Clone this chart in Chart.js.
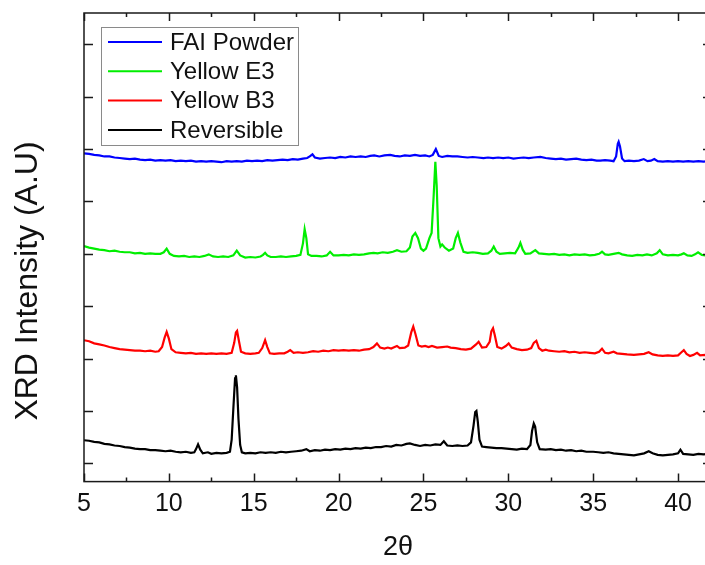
<!DOCTYPE html>
<html>
<head>
<meta charset="utf-8">
<script src="https://cdn.jsdelivr.net/npm/chart.js@4/dist/chart.umd.min.js"></script>
<style>
    html, body { margin: 0; padding: 0; background: #fff; overflow: hidden; }
    #wrap { width: 720px; height: 565px; }
</style>
</head>
<body>
<div id="wrap"><canvas id="xrdChart" width="720" height="565"></canvas></div>
<script>
// 2theta / intensity pairs, one list per sample
const seriesNames = ['FAI Powder', 'Yellow E3', 'Yellow B3', 'Reversible'];
const seriesColors = ['#0000ff', '#00ee00', '#ff0000', '#000000'];

const faiPowder = [
    [5.0, 5.92], [5.3, 5.91], [5.6, 5.89], [5.9, 5.88], [6.2, 5.86], [6.5, 5.86], [6.8, 5.84], [7.1, 5.83],
    [7.4, 5.82], [7.7, 5.81], [8.0, 5.82], [8.3, 5.80], [8.6, 5.79], [8.9, 5.80], [9.2, 5.78], [9.5, 5.79],
    [9.8, 5.78], [10.1, 5.79], [10.4, 5.77], [10.7, 5.78], [11.0, 5.77], [11.3, 5.78], [11.6, 5.76], [11.9, 5.77],
    [12.2, 5.76], [12.5, 5.77], [12.8, 5.76], [13.1, 5.75], [13.4, 5.77], [13.7, 5.76], [14.0, 5.77], [14.3, 5.76],
    [14.6, 5.78], [14.9, 5.77], [15.2, 5.78], [15.5, 5.77], [15.8, 5.79], [16.1, 5.78], [16.4, 5.79], [16.7, 5.80],
    [17.0, 5.79], [17.3, 5.81], [17.6, 5.80], [17.9, 5.82], [18.15, 5.83], [18.3, 5.86], [18.46, 5.90], [18.6, 5.84],
    [18.9, 5.82], [19.2, 5.83], [19.5, 5.84], [19.8, 5.83], [20.1, 5.85], [20.4, 5.84], [20.7, 5.86], [21.0, 5.85],
    [21.3, 5.86], [21.6, 5.85], [21.86, 5.87], [22.1, 5.88], [22.4, 5.86], [22.7, 5.88], [23.04, 5.89], [23.3, 5.87],
    [23.6, 5.86], [23.9, 5.88], [24.2, 5.87], [24.5, 5.89], [24.8, 5.87], [25.1, 5.88], [25.35, 5.86], [25.55, 5.89],
    [25.73, 6.00], [25.9, 5.87], [26.1, 5.85], [26.4, 5.87], [26.7, 5.86], [27.0, 5.86], [27.3, 5.85], [27.6, 5.84],
    [27.9, 5.85], [28.2, 5.84], [28.54, 5.83], [28.8, 5.84], [29.1, 5.83], [29.4, 5.84], [29.7, 5.83], [30.0, 5.84],
    [30.3, 5.82], [30.6, 5.83], [30.9, 5.84], [31.2, 5.83], [31.5, 5.84], [31.89, 5.85], [32.2, 5.83], [32.5, 5.82],
    [32.8, 5.81], [33.1, 5.82], [33.4, 5.80], [33.7, 5.81], [34.0, 5.82], [34.3, 5.80], [34.6, 5.79], [34.9, 5.80],
    [35.2, 5.78], [35.42, 5.78], [35.7, 5.79], [36.0, 5.78], [36.2, 5.77], [36.35, 5.86], [36.45, 6.10], [36.5, 6.14],
    [36.58, 6.05], [36.7, 5.82], [36.85, 5.77], [37.1, 5.78], [37.4, 5.77], [37.7, 5.78], [37.98, 5.81], [38.2, 5.77],
    [38.4, 5.78], [38.6, 5.81], [38.8, 5.77], [39.1, 5.76], [39.4, 5.77], [39.7, 5.76], [40.0, 5.77], [40.3, 5.76],
    [40.6, 5.77], [40.9, 5.76], [41.2, 5.77], [41.5, 5.76], [41.8, 5.77], [42.0, 5.76]
];

const yellowE3 = [
    [5.0, 4.15], [5.3, 4.12], [5.6, 4.10], [5.9, 4.08], [6.2, 4.07], [6.5, 4.05], [6.8, 4.06], [7.1, 4.04],
    [7.4, 4.03], [7.7, 4.03], [8.0, 4.01], [8.3, 4.02], [8.6, 4.00], [8.9, 4.01], [9.2, 4.00], [9.5, 4.00],
    [9.7, 4.03], [9.87, 4.10], [10.05, 4.00], [10.3, 3.96], [10.6, 3.95], [10.9, 3.96], [11.2, 3.94], [11.5, 3.95],
    [11.8, 3.94], [12.1, 3.96], [12.35, 3.99], [12.6, 3.95], [12.9, 3.94], [13.2, 3.95], [13.5, 3.94], [13.8, 3.97],
    [14.0, 4.06], [14.2, 3.97], [14.5, 3.93], [14.8, 3.94], [15.1, 3.93], [15.4, 3.95], [15.55, 3.98], [15.67, 4.02],
    [15.8, 3.97], [16.0, 3.94], [16.3, 3.94], [16.6, 3.95], [16.9, 3.94], [17.2, 3.95], [17.5, 3.96], [17.75, 3.98],
    [17.9, 4.20], [18.0, 4.47], [18.1, 4.30], [18.2, 3.99], [18.4, 3.96], [18.7, 3.96], [19.0, 3.95], [19.3, 3.97],
    [19.5, 4.04], [19.7, 3.97], [20.0, 3.97], [20.3, 3.98], [20.6, 3.97], [20.9, 3.99], [21.2, 3.98], [21.5, 3.99],
    [21.8, 4.01], [22.06, 4.02], [22.3, 4.01], [22.6, 4.03], [22.9, 4.02], [23.2, 4.04], [23.44, 4.07], [23.7, 4.04],
    [24.0, 4.05], [24.2, 4.12], [24.35, 4.33], [24.52, 4.40], [24.68, 4.30], [24.85, 4.10], [25.0, 4.06], [25.15, 4.10],
    [25.35, 4.30], [25.48, 4.40], [25.6, 5.10], [25.7, 5.76], [25.78, 5.30], [25.88, 4.30], [26.0, 4.14], [26.1, 4.18],
    [26.25, 4.12], [26.5, 4.06], [26.75, 4.10], [26.9, 4.30], [27.03, 4.40], [27.17, 4.22], [27.36, 4.04], [27.6, 4.02],
    [27.9, 4.03], [28.2, 4.02], [28.5, 4.00], [28.8, 4.01], [29.0, 4.06], [29.14, 4.14], [29.3, 4.04], [29.5, 4.00],
    [29.8, 4.01], [30.1, 4.02], [30.4, 4.01], [30.6, 4.12], [30.71, 4.21], [30.85, 4.08], [31.0, 4.00], [31.3, 4.01],
    [31.59, 4.07], [31.8, 4.01], [32.1, 4.00], [32.4, 3.99], [32.7, 4.00], [33.0, 3.98], [33.3, 3.99], [33.6, 3.97],
    [33.9, 3.99], [34.2, 3.98], [34.5, 3.99], [34.8, 3.97], [35.1, 3.98], [35.35, 4.00], [35.52, 4.04], [35.7, 3.99],
    [35.9, 3.98], [36.2, 4.00], [36.5, 4.02], [36.7, 3.99], [37.0, 3.97], [37.3, 3.96], [37.6, 3.98], [37.9, 3.97],
    [38.17, 3.99], [38.45, 3.97], [38.75, 4.01], [38.92, 4.07], [39.1, 3.99], [39.4, 3.97], [39.7, 3.98], [40.0, 3.97],
    [40.2, 3.99], [40.34, 4.01], [40.55, 3.97], [40.8, 3.96], [41.0, 3.99], [41.18, 4.03], [41.4, 3.98], [41.6, 3.97],
    [41.8, 3.98], [42.0, 3.97]
];

const yellowB3 = [
    [5.0, 2.35], [5.3, 2.33], [5.6, 2.29], [5.9, 2.27], [6.2, 2.25], [6.5, 2.22], [6.8, 2.20], [7.1, 2.18],
    [7.4, 2.17], [7.7, 2.16], [8.0, 2.15], [8.3, 2.15], [8.6, 2.14], [8.9, 2.15], [9.2, 2.13], [9.4, 2.14],
    [9.6, 2.22], [9.75, 2.40], [9.87, 2.51], [10.0, 2.38], [10.15, 2.18], [10.4, 2.12], [10.7, 2.11], [11.0, 2.10],
    [11.3, 2.11], [11.6, 2.09], [11.9, 2.10], [12.2, 2.09], [12.5, 2.10], [12.8, 2.09], [13.1, 2.10], [13.4, 2.09],
    [13.7, 2.11], [13.85, 2.30], [13.95, 2.50], [14.02, 2.53], [14.12, 2.35], [14.25, 2.13], [14.5, 2.10], [14.8, 2.09],
    [15.1, 2.10], [15.3, 2.11], [15.5, 2.20], [15.67, 2.35], [15.8, 2.22], [15.95, 2.10], [16.2, 2.09], [16.5, 2.10],
    [16.8, 2.10], [17.0, 2.13], [17.15, 2.16], [17.35, 2.11], [17.6, 2.12], [17.9, 2.11], [18.2, 2.12], [18.5, 2.14],
    [18.8, 2.13], [19.1, 2.15], [19.4, 2.14], [19.7, 2.16], [20.0, 2.15], [20.3, 2.16], [20.6, 2.15], [20.9, 2.16],
    [21.2, 2.15], [21.5, 2.17], [21.8, 2.18], [22.05, 2.22], [22.26, 2.29], [22.45, 2.21], [22.7, 2.19], [22.9, 2.21],
    [23.1, 2.19], [23.3, 2.22], [23.44, 2.24], [23.6, 2.20], [23.9, 2.21], [24.1, 2.25], [24.28, 2.50], [24.4, 2.61],
    [24.52, 2.48], [24.7, 2.25], [24.9, 2.23], [25.1, 2.24], [25.3, 2.22], [25.5, 2.24], [25.8, 2.21], [26.1, 2.22],
    [26.4, 2.23], [26.6, 2.21], [26.9, 2.20], [27.2, 2.18], [27.5, 2.17], [27.8, 2.19], [28.1, 2.27], [28.25, 2.32],
    [28.45, 2.21], [28.7, 2.22], [28.9, 2.32], [29.0, 2.52], [29.1, 2.58], [29.2, 2.45], [29.35, 2.22], [29.6, 2.19],
    [29.85, 2.24], [30.02, 2.29], [30.2, 2.21], [30.5, 2.18], [30.8, 2.16], [31.1, 2.17], [31.35, 2.20], [31.5, 2.30],
    [31.65, 2.34], [31.8, 2.20], [32.0, 2.15], [32.2, 2.17], [32.4, 2.15], [32.7, 2.14], [33.0, 2.13], [33.3, 2.14],
    [33.6, 2.12], [33.9, 2.13], [34.2, 2.11], [34.5, 2.12], [34.8, 2.11], [35.1, 2.10], [35.35, 2.13], [35.52, 2.19],
    [35.7, 2.11], [35.9, 2.10], [36.2, 2.13], [36.4, 2.10], [36.7, 2.09], [37.0, 2.08], [37.4, 2.07], [37.7, 2.08],
    [38.0, 2.09], [38.27, 2.12], [38.5, 2.08], [38.8, 2.06], [39.1, 2.05], [39.4, 2.06], [39.7, 2.05], [40.0, 2.06],
    [40.2, 2.12], [40.34, 2.16], [40.5, 2.09], [40.7, 2.05], [40.9, 2.07], [41.12, 2.11], [41.3, 2.06], [41.6, 2.07],
    [41.8, 2.06], [42.0, 2.07]
];

const reversible = [
    [5.0, 0.44], [5.3, 0.43], [5.6, 0.41], [5.9, 0.40], [6.2, 0.37], [6.5, 0.36], [6.8, 0.34], [7.1, 0.33],
    [7.4, 0.31], [7.7, 0.30], [8.0, 0.28], [8.3, 0.27], [8.6, 0.27], [8.9, 0.25], [9.2, 0.25], [9.5, 0.24],
    [9.8, 0.23], [10.1, 0.24], [10.4, 0.22], [10.7, 0.21], [11.0, 0.22], [11.3, 0.20], [11.5, 0.21], [11.6, 0.27],
    [11.72, 0.36], [11.85, 0.26], [12.0, 0.19], [12.3, 0.21], [12.5, 0.18], [12.8, 0.20], [13.1, 0.19], [13.4, 0.20],
    [13.6, 0.22], [13.7, 0.45], [13.8, 1.05], [13.9, 1.62], [13.95, 1.68], [14.02, 1.45], [14.1, 0.85], [14.2, 0.35],
    [14.3, 0.21], [14.5, 0.19], [14.8, 0.20], [15.1, 0.19], [15.4, 0.21], [15.7, 0.20], [16.0, 0.21], [16.3, 0.20],
    [16.6, 0.22], [16.9, 0.21], [17.2, 0.22], [17.5, 0.23], [17.8, 0.24], [18.1, 0.27], [18.3, 0.23], [18.6, 0.25],
    [18.9, 0.24], [19.2, 0.26], [19.5, 0.25], [19.8, 0.27], [20.1, 0.26], [20.4, 0.28], [20.7, 0.27], [21.0, 0.29],
    [21.3, 0.28], [21.6, 0.30], [21.9, 0.29], [22.2, 0.31], [22.5, 0.31], [22.8, 0.33], [23.1, 0.32], [23.4, 0.35],
    [23.7, 0.34], [24.0, 0.37], [24.2, 0.38], [24.5, 0.35], [24.8, 0.33], [25.1, 0.35], [25.4, 0.34], [25.7, 0.36],
    [26.0, 0.35], [26.2, 0.42], [26.4, 0.34], [26.7, 0.33], [27.0, 0.34], [27.3, 0.33], [27.6, 0.34], [27.8, 0.40],
    [27.95, 0.72], [28.05, 0.98], [28.12, 1.00], [28.2, 0.80], [28.3, 0.45], [28.45, 0.32], [28.7, 0.31], [29.0, 0.30],
    [29.3, 0.29], [29.6, 0.29], [29.9, 0.28], [30.2, 0.27], [30.5, 0.26], [30.8, 0.28], [31.1, 0.27], [31.3, 0.35],
    [31.4, 0.62], [31.5, 0.76], [31.58, 0.70], [31.7, 0.40], [31.85, 0.27], [32.2, 0.26], [32.5, 0.27], [32.8, 0.25],
    [33.1, 0.26], [33.4, 0.24], [33.7, 0.25], [34.0, 0.23], [34.3, 0.24], [34.6, 0.22], [35.0, 0.22], [35.3, 0.21],
    [35.6, 0.20], [35.9, 0.21], [36.2, 0.19], [36.5, 0.18], [36.8, 0.17], [37.1, 0.16], [37.4, 0.15], [37.7, 0.17],
    [38.0, 0.19], [38.27, 0.23], [38.5, 0.19], [38.8, 0.16], [39.1, 0.15], [39.4, 0.16], [39.7, 0.17], [40.0, 0.19],
    [40.14, 0.26], [40.3, 0.18], [40.6, 0.17], [40.9, 0.16], [41.2, 0.18], [41.5, 0.17], [41.8, 0.18], [42.0, 0.17]
];

const xTickValues = [5, 10, 15, 20, 25, 30, 35, 40];
const yTickValues = [0, 1, 2, 3, 4, 5, 6, 7, 8];

const FONT = '"Liberation Sans", Arial, sans-serif';
Chart.defaults.font.family = FONT;
Chart.defaults.color = '#111';

// box frame, inward ticks on all four sides, y title and inset legend
const framePlugin = {
    id: 'framePlugin',
    afterDraw(chart) {
        const { ctx, chartArea: a, scales: { x, y } } = chart;
        ctx.save();
        ctx.strokeStyle = '#1a1a1a';
        ctx.lineWidth = 1.5;
        ctx.strokeRect(a.left, a.top, a.right - a.left, a.bottom - a.top);

        ctx.beginPath();
        for (let v = x.min; v <= x.max; v += 2.5) {
            const px = Math.round(x.getPixelForValue(v)) + 0.5;
            const len = v % 5 === 0 ? 8 : 4;
            ctx.moveTo(px, a.bottom);
            ctx.lineTo(px, a.bottom - len);
            ctx.moveTo(px, a.top);
            ctx.lineTo(px, a.top + len);
        }
        yTickValues.forEach((v) => {
            const py = Math.round(y.getPixelForValue(v)) + 0.5;
            ctx.moveTo(a.left, py);
            ctx.lineTo(a.left + 9, py);
            ctx.moveTo(a.right, py);
            ctx.lineTo(a.right - 9, py);
        });
        ctx.stroke();

        // y axis title
        ctx.save();
        ctx.translate(28, 281);
        ctx.rotate(-Math.PI / 2);
        ctx.font = `32px ${FONT}`;
        ctx.fillStyle = '#111';
        ctx.textAlign = 'center';
        ctx.textBaseline = 'middle';
        ctx.fillText('XRD Intensity (A.U)', 0, 0);
        ctx.restore();

        // legend
        const lx = 101, ly = 27, lw = 197, lh = 118;
        ctx.fillStyle = '#fff';
        ctx.fillRect(lx, ly, lw, lh);
        ctx.strokeStyle = '#8a8a8a';
        ctx.lineWidth = 1;
        ctx.strokeRect(lx + 0.5, ly + 0.5, lw, lh);
        ctx.font = `24px ${FONT}`;
        ctx.textAlign = 'left';
        ctx.textBaseline = 'middle';
        chart.data.datasets.forEach((ds, i) => {
            const rowY = 42 + i * 29.3;
            ctx.strokeStyle = ds.borderColor;
            ctx.lineWidth = 2;
            ctx.beginPath();
            ctx.moveTo(108, rowY);
            ctx.lineTo(162, rowY);
            ctx.stroke();
            ctx.fillStyle = '#111';
            ctx.fillText(ds.label, 170, rowY + 1);
        });
        ctx.restore();
    },
};

const allSeries = [faiPowder, yellowE3, yellowB3, reversible];

new Chart(document.getElementById('xrdChart'), {
    type: 'line',
    data: {
        datasets: allSeries.map((pts, i) => ({
            label: seriesNames[i],
            data: pts.map(([x, y]) => ({ x, y })),
            borderColor: seriesColors[i],
            borderWidth: 2.2,
            pointRadius: 0,
            tension: 0,
            fill: false,
        })),
    },
    options: {
        responsive: false,
        animation: false,
        devicePixelRatio: 1,
        layout: { padding: { left: 84, right: 8, top: 13, bottom: 0 } },
        plugins: {
            legend: { display: false },
            tooltip: { enabled: false },
        },
        scales: {
            x: {
                type: 'linear',
                min: 5,
                max: 42,
                grid: { display: false, drawTicks: false },
                border: { display: false },
                afterBuildTicks: (scale) => {
                    scale.ticks = xTickValues.map((value) => ({ value }));
                },
                ticks: {
                    padding: 8,
                    font: { size: 25 },
                    color: '#111',
                },
                title: {
                    display: true,
                    text: '2θ',
                    font: { size: 27 },
                    color: '#111',
                    padding: { top: 4, bottom: 1 },
                },
            },
            y: {
                type: 'linear',
                min: -0.35,
                max: 8.6,
                grid: { display: false, drawTicks: false },
                border: { display: false },
                afterBuildTicks: (scale) => {
                    scale.ticks = yTickValues.map((value) => ({ value }));
                },
                ticks: { display: false },
            },
        },
    },
    plugins: [framePlugin],
});
</script>
</body>
</html>
